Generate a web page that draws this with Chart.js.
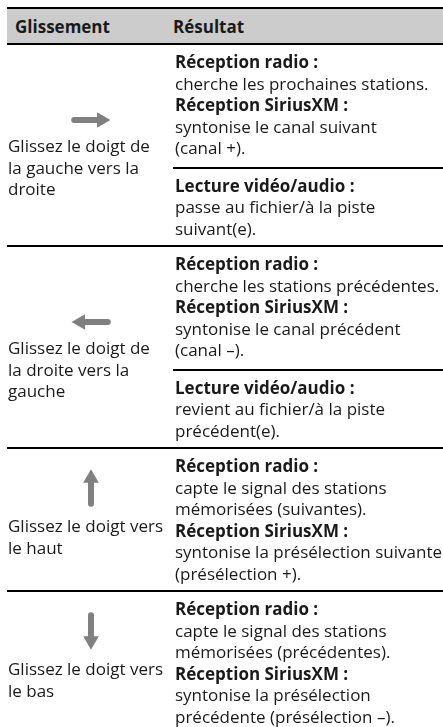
<!DOCTYPE html>
<html lang="fr">
<head>
<meta charset="utf-8">
<script src="https://cdn.jsdelivr.net/npm/chart.js@4/dist/chart.umd.min.js"></script>
<style>
  html, body { margin: 0; padding: 0; background: #fff; }
  body { width: 443px; height: 727px; overflow: hidden; position: relative;
         font-family: "Open Sans", "Noto Sans", sans-serif; font-size: 17px; color: #1a1a1a; }
  .table { position: absolute; left: 7px; top: 7px; width: 436px; }
  .head { display: flex; align-items: center; height: 34px; background: #cccccc;
          border-top: 2px solid #000; border-bottom: 2px solid #000; font-weight: bold; }
  .head .c1 { width: 166px; padding-left: 8px; box-sizing: border-box; }
  .row { display: flex; border-bottom: 2px solid #000; }
  .row:last-child { border-bottom: none; }
  .left { width: 166px; padding-left: 1px; box-sizing: border-box; line-height: 21.5px; white-space: nowrap; }
  .left canvas { display: block; margin: 0 auto; }
  .left.horiz { padding-top: 60px; }
  .left.vert { padding-top: 13px; }
  .left.vert canvas { margin-bottom: 1px; }
  .right { flex: 1; }
  .group { padding: 6px 0 8px 2px; line-height: 21.5px; white-space: nowrap; }
  .group:last-child { padding-bottom: 6px; }
  .group + .group { border-top: 2px solid #000; }
  .group b { font-weight: bold; }
</style>
</head>
<body>
<div class="table" id="tbl"></div>
<script>
// Column headings
const columnHeads = ['Glissement', 'Résultat'];

// Swipe gesture text (one entry per row, explicit line breaks)
const gestureLines = [
  ['Glissez le doigt de', 'la gauche vers la', 'droite'],
  ['Glissez le doigt de', 'la droite vers la', 'gauche'],
  ['Glissez le doigt vers', 'le haut'],
  ['Glissez le doigt vers', 'le bas']
];

// Swipe direction for each row's arrow
const swipeX = [1, -1, 0, 0];
const swipeY = [0, 0, 1, -1];

// Result text: rows -> groups -> lines ("xxx :" lines are headings)
const resultGroups = [
  [
    ['Réception radio :', 'cherche les prochaines stations.', 'Réception SiriusXM :', 'syntonise le canal suivant', '(canal +).'],
    ['Lecture vidéo/audio :', 'passe au fichier/à la piste', 'suivant(e).']
  ],
  [
    ['Réception radio :', 'cherche les stations précédentes.', 'Réception SiriusXM :', 'syntonise le canal précédent', '(canal –).'],
    ['Lecture vidéo/audio :', 'revient au fichier/à la piste', 'précédent(e).']
  ],
  [
    ['Réception radio :', 'capte le signal des stations', 'mémorisées (suivantes).', 'Réception SiriusXM :', 'syntonise la présélection suivante', '(présélection +).']
  ],
  [
    ['Réception radio :', 'capte le signal des stations', 'mémorisées (précédentes).', 'Réception SiriusXM :', 'syntonise la présélection', 'précédente (présélection –).']
  ]
];

const ARROW_COLOR = '#808080';
const ARROW_HALF = 24;   // half arrow length, px
const HEAD_R = 9;        // triangle head radius, px

const tbl = document.getElementById('tbl');

function lineHtml(text) {
  return /:\s*$/.test(text) ? `<b>${text}</b>` : text;
}

// Header
const head = document.createElement('div');
head.className = 'head';
head.innerHTML = `<div class="c1">${columnHeads[0]}</div><div class="c2">${columnHeads[1]}</div>`;
tbl.appendChild(head);

// Rows
gestureLines.forEach((lines, i) => {
  const horiz = swipeX[i] !== 0;
  const row = document.createElement('div');
  row.className = 'row';

  const left = document.createElement('div');
  left.className = 'left ' + (horiz ? 'horiz' : 'vert');
  const canvas = document.createElement('canvas');
  canvas.width = 60;
  canvas.height = horiz ? 30 : 52;
  left.appendChild(canvas);
  const txt = document.createElement('div');
  txt.innerHTML = lines.join('<br>');
  left.appendChild(txt);

  const right = document.createElement('div');
  right.className = 'right';
  resultGroups[i].forEach(group => {
    const g = document.createElement('div');
    g.className = 'group';
    g.innerHTML = group.map(lineHtml).join('<br>');
    right.appendChild(g);
  });

  row.appendChild(left);
  row.appendChild(right);
  tbl.appendChild(row);

  drawArrow(canvas, swipeX[i], swipeY[i]);
});

function drawArrow(canvas, dx, dy) {
  const w = canvas.width / 2;
  const h = canvas.height / 2;
  const headPos = ARROW_HALF - HEAD_R;
  const rotation = Math.atan2(dx, dy) * 180 / Math.PI;

  new Chart(canvas, {
    type: 'line',
    data: {
      datasets: [{
        data: [
          { x: -dx * ARROW_HALF, y: -dy * ARROW_HALF },
          { x: dx * headPos, y: dy * headPos }
        ],
        borderColor: ARROW_COLOR,
        backgroundColor: ARROW_COLOR,
        borderWidth: 6,
        borderCapStyle: 'round',
        pointStyle: 'triangle',
        pointRadius: [0, HEAD_R],
        pointRotation: [0, rotation],
        pointBorderWidth: 0,
        pointBackgroundColor: ARROW_COLOR,
        clip: false
      }]
    },
    options: {
      responsive: false,
      animation: false,
      events: [],
      layout: { padding: 0 },
      scales: {
        x: { type: 'linear', display: false, min: -w, max: w },
        y: { type: 'linear', display: false, min: -h, max: h }
      },
      plugins: {
        legend: { display: false },
        tooltip: { enabled: false }
      }
    }
  });
}
</script>
</body>
</html>
